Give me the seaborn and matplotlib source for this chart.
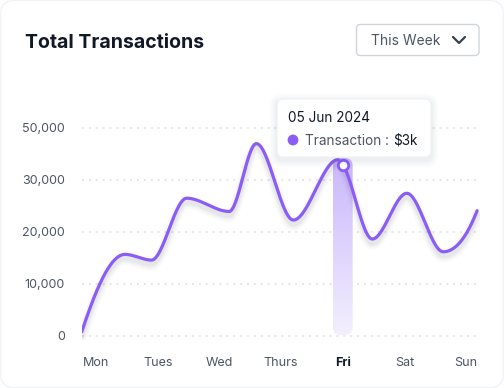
import numpy as np
import matplotlib
matplotlib.use("Agg")
import matplotlib.pyplot as plt
import seaborn as sns
from matplotlib.patches import FancyBboxPatch, Circle
from matplotlib.transforms import IdentityTransform, offset_copy
from matplotlib.colors import LinearSegmentedColormap
from matplotlib.lines import Line2D

# =========================
# DATA
# =========================
days = ["Mon", "Tues", "Wed", "Thurs", "Fri", "Sat", "Sun"]
# curve knots (x in day slots, Mon = 0)
knot_x = [-0.23, 0.47, 0.90, 1.47, 2.16, 2.60, 3.20, 3.92, 4.00, 4.48, 5.04, 5.63, 6.18]
knot_y = [830, 15700, 14600, 26500, 23950, 37000, 22300, 33900, 32900, 18650, 27450, 16200, 24100]

y_ticks = [0, 10000, 20000, 30000, 40000]
y_labels = ["0", "10,000", "20,000", "30,000", "50,000"]

highlight_day = "Fri"
tooltip_date = "05 Jun 2024"
tooltip_name = "Transaction"
tooltip_value = "$3k"

PURPLE = "#8b5cf6"
DARK = "#111827"
GREY = "#4b5563"
W, H = 504, 388


# =========================
# HELPERS
# =========================
def pchip(x, y, xs):
    # monotone cubic so the curve keeps flat tops at the knots
    x = np.asarray(x, float)
    y = np.asarray(y, float)
    h = np.diff(x)
    d = np.diff(y) / h
    n = len(x)
    m = np.zeros(n)
    for k in range(1, n - 1):
        if d[k - 1] * d[k] > 0:
            w1 = 2 * h[k] + h[k - 1]
            w2 = h[k] + 2 * h[k - 1]
            m[k] = (w1 + w2) / (w1 / d[k - 1] + w2 / d[k])

    def end(h0, h1, d0, d1):
        s = ((2 * h0 + h1) * d0 - h0 * d1) / (h0 + h1)
        if np.sign(s) != np.sign(d0):
            return 0.0
        if np.sign(d0) != np.sign(d1) and abs(s) > 3 * abs(d0):
            return 3 * d0
        return s

    m[0] = end(h[0], h[1], d[0], d[1])
    m[-1] = end(h[-1], h[-2], d[-1], d[-2])
    idx = np.clip(np.searchsorted(x, xs) - 1, 0, n - 2)
    t = (xs - x[idx]) / h[idx]
    h00 = 2 * t**3 - 3 * t**2 + 1
    h10 = t**3 - 2 * t**2 + t
    h01 = -2 * t**3 + 3 * t**2
    h11 = t**3 - t**2
    return h00 * y[idx] + h10 * h[idx] * m[idx] + h01 * y[idx + 1] + h11 * h[idx] * m[idx + 1]


def px_box(fig, x0, y0, x1, y1, r, **kw):
    # rounded box in image pixels (top-left origin)
    p = FancyBboxPatch((x0, H - y1), x1 - x0, y1 - y0,
                       boxstyle=f"round,pad=0,rounding_size={r}",
                       transform=IdentityTransform(), **kw)
    fig.add_artist(p)
    return p


def fx(x):
    return x / W


def fy(y):
    return 1 - y / H


# =========================
# FIGURE
# =========================
sns.set_theme(style="white")
plt.rcParams["font.family"] = ["Inter", "DejaVu Sans"]

fig = plt.figure(figsize=(W / 100, H / 100), dpi=100)
fig.patch.set_facecolor("white")

# card outline (barely visible)
px_box(fig, 0.5, 0.5, W - 0.5, H - 0.5, 14, fc="none", ec="#f2f3f5", lw=1)

ax = fig.add_axes([fx(82), fy(340), 398 / W, 240 / H])
ax.set_facecolor("none")

px_val = 10000 / 52          # value per pixel
px_day = 1 / 61.67           # day slot per pixel
ax.set_xlim(-14 * px_day, 384 * px_day)
ax.set_ylim(-4 * px_val, 236 * px_val)

# highlight column behind Fri
hx = days.index(highlight_day)
hi = knot_x.index(float(hx))
bar_w = 20 * px_day
bar_top = 178 * px_val
bar_bot = 1 * px_val
clip = FancyBboxPatch((hx - bar_w / 2, bar_bot), bar_w, bar_top - bar_bot,
                      boxstyle=f"round,pad=0,rounding_size={8 * px_day}",
                      mutation_aspect=px_val / px_day,
                      fc="none", ec="none", transform=ax.transData)
ax.add_patch(clip)
cmap = LinearSegmentedColormap.from_list("hl", ["#f3effe", "#c9b7fc"])
grad = np.linspace(0, 1, 256).reshape(-1, 1)
im = ax.imshow(grad, cmap=cmap, origin="lower", aspect="auto",
               extent=[hx - bar_w / 2, hx + bar_w / 2, bar_bot, bar_top], zorder=1)
im.set_clip_path(clip)

# smooth curve
xs = np.linspace(knot_x[0], knot_x[-1], 800)
ys = pchip(knot_x, knot_y, xs)

# soft shadow under the line
for lw, a, dy in [(8, 0.04, -5), (5.5, 0.06, -4.5), (3.5, 0.08, -4)]:
    tr = offset_copy(ax.transData, fig=fig, x=0, y=dy, units="dots")
    ax.plot(xs, ys, color="#6b7280", lw=lw, alpha=a, transform=tr,
            solid_capstyle="round", zorder=2)

sns.lineplot(x=xs, y=ys, ax=ax, color=PURPLE, lw=2.3, estimator=None,
             sort=False, zorder=3)
ax.lines[-1].set_solid_capstyle("round")

# highlighted point
ax.plot([knot_x[hi]], [knot_y[hi]], marker="o", ms=7.5, mfc="white",
        mec=PURPLE, mew=2, zorder=4)

# axes styling
ax.set_yticks(y_ticks)
ax.set_yticklabels(y_labels)
ax.set_xticks(range(len(days)))
ax.set_xticklabels(days)
ax.yaxis.grid(True, color="#dcdfe4", linestyle=(0, (1.3, 3.2)), lw=1.1)
ax.xaxis.grid(False)
for s in ax.spines.values():
    s.set_visible(False)
ax.tick_params(axis="y", length=0, pad=12.2, labelsize=9, labelcolor=GREY)
ax.tick_params(axis="x", length=0, pad=12.5, labelsize=9, labelcolor=GREY)
for t in ax.get_xticklabels():
    if t.get_text() == highlight_day:
        t.set_fontweight("bold")
        t.set_color(DARK)

# title
fig.text(fx(25), fy(47.5), "Total Transactions", fontsize=14, fontweight="bold",
         color=DARK, va="baseline", ha="left")

# dropdown
px_box(fig, 356.5, 24.5, 479, 55.5, 4, fc="white", ec="#d1d5db", lw=1)
fig.text(fx(371), fy(45), "This Week", fontsize=10, color=GREY, va="baseline", ha="left")
fig.add_artist(Line2D([453, 459, 465], [H - 37, H - 43, H - 37], color="#374151",
                      lw=1.6, solid_capstyle="round", solid_joinstyle="round",
                      transform=IdentityTransform()))

# tooltip
for g, a in [(8, 0.012), (6, 0.018), (4, 0.025), (2, 0.03)]:
    px_box(fig, 277 - g, 101 - g, 431 + g, 160 + g, 6 + g, fc="#475569", ec="none",
           alpha=a, zorder=5)
px_box(fig, 277, 99, 431, 157, 6, fc="white", ec="#eef0f3", lw=0.8, zorder=6)
fig.text(fx(288), fy(121.5), tooltip_date, fontsize=9.8, color=DARK,
         va="baseline", ha="left", zorder=7)
fig.add_artist(Circle((293, H - 140), 4.7, color=PURPLE,
                      transform=IdentityTransform(), zorder=7))
fig.text(fx(305), fy(145), tooltip_name + " :", fontsize=9.8, color=GREY,
         va="baseline", ha="left", zorder=7)
fig.text(fx(393), fy(145), tooltip_value, fontsize=9.8, color=DARK,
         va="baseline", ha="left", zorder=7)

fig.savefig("out.png", dpi=100)
